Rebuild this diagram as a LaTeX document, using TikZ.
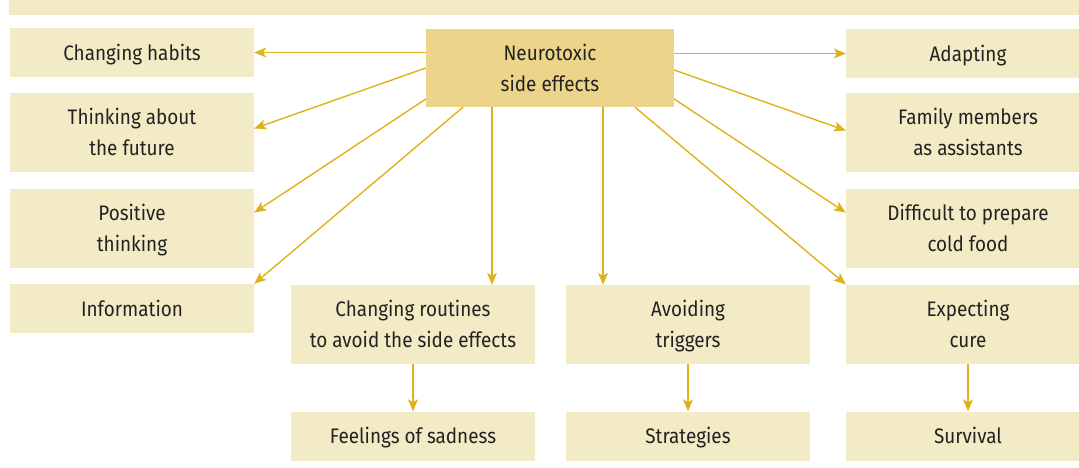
\documentclass[tikz,border=0pt]{standalone}
\usepackage{fontspec}
\setmainfont{Fira Sans}[FakeStretch=0.9]
\usepackage{tikz}
\usetikzlibrary{arrows.meta,positioning,calc}
\usepackage{xcolor}
\definecolor{boxBeige}{HTML}{F3EBC6}
\definecolor{coreGold}{HTML}{EDD48B}
\definecolor{arrowGold}{HTML}{DFB21A}
\definecolor{inkGrey}{HTML}{222222}

\begin{document}
\begin{tikzpicture}[
    x=1pt, y=-1pt,
    theme/.style={rectangle, fill=boxBeige, minimum width=244pt,
                  align=center, text=inkGrey, inner sep=0pt,
                  font=\fontsize{21}{31}\selectfont},
    short/.style={theme, minimum height=49pt, text height=15pt, text depth=0pt},
    tall/.style={theme, minimum height=79pt, text height=46pt, text depth=0pt},
    core/.style={tall, fill=coreGold, minimum width=248pt, minimum height=78pt},
    arr/.style={-{Stealth[length=12pt, width=10pt, inset=3pt]}, arrowGold, line width=1.4pt},
]
    \clip (0,0) rectangle (1079,467);
    \node[rectangle, fill=boxBeige, minimum width=1100pt, minimum height=30pt,
          inner sep=0pt, anchor=south west] (titlebar) at (9,15) {};

    \node[core] (neuro) at (550,68) {Neurotoxic\\side effects};

    % left column
    \node[short] (habits)   at (132,52.5)  {Changing habits};
    \node[tall]  (future)   at (132,132.5) {Thinking about\\the future};
    \node[tall]  (positive) at (132,228.5) {Positive\\thinking};
    \node[short] (info)     at (132,308.5) {Information};

    % right column
    \node[short] (adapt)    at (968,53.5)  {Adapting};
    \node[tall]  (family)   at (968,132.5) {Family members\\as assistants};
    \node[tall]  (cold)     at (968,228.5) {Difficult to prepare\\cold food};
    \node[tall]  (cure)     at (968,324)   {Expecting\\cure};
    \node[short] (survival) at (968,436)   {Survival};

    % middle
    \node[tall]  (routines)   at (413,324.5) {Changing routines\\to avoid the side effects};
    \node[short] (sadness)    at (413,436)   {Feelings of sadness};
    \node[tall]  (triggers)   at (688,324.5) {Avoiding\\triggers};
    \node[short] (strategies) at (688,436)   {Strategies};

    \draw[arr] (neuro.west |- habits) -- (habits);
    \draw[arr] (neuro.west) -- ([yshift=4pt]future.east);
    \draw[arr] ([yshift=-31pt]neuro.west) -- ($(positive.north east)!0.3!(positive.south east)$);
    \draw[arr] ([xshift=-87pt]neuro.south) -- (info.north east);
    \draw[arr] ([xshift=-58pt]neuro.south) -- ([xshift=-58pt]neuro.south |- routines.north);
    \draw[arr] ([xshift=53pt]neuro.south) -- ([xshift=53pt]neuro.south |- triggers.north);
    \draw[arr] (neuro.east |- adapt) -- (adapt);
    \draw[arr] ([yshift=-2pt]neuro.east) -- ([yshift=2pt]family.west);
    \draw[arr] ([yshift=-31pt]neuro.east) -- ($(cold.north west)!0.3!(cold.south west)$);
    \draw[arr] ([xshift=85pt]neuro.south) -- (cure.north west);

    \draw[arr] (routines) -- (sadness);
    \draw[arr] (triggers) -- (strategies);
    \draw[arr] (cure) -- (survival);
\end{tikzpicture}
\end{document}
